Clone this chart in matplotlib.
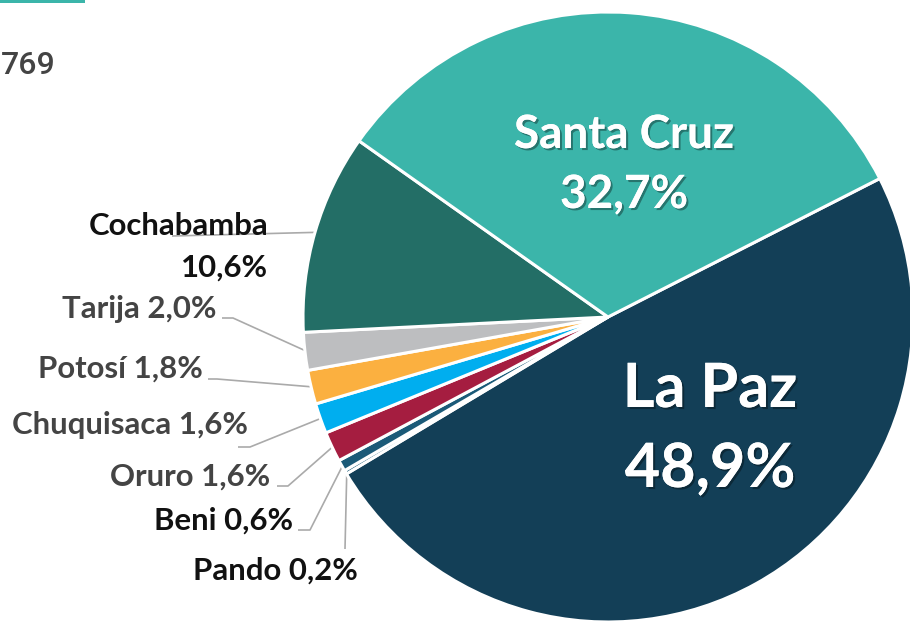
import matplotlib
matplotlib.use("Agg")
import matplotlib.pyplot as plt
import matplotlib.patheffects as pe
import numpy as np

# ---- data ----
departments = ["La Paz", "Pando", "Beni", "Oruro", "Chuquisaca", "Potosí", "Tarija", "Cochabamba", "Santa Cruz"]
shares = [48.9, 0.2, 0.6, 1.6, 1.6, 1.8, 2.0, 10.6, 32.7]
share_labels = ["48,9%", "0,2%", "0,6%", "1,6%", "1,6%", "1,8%", "2,0%", "10,6%", "32,7%"]
colors = ["#133f57", "#1b5a78", "#1b5a78", "#a51d40", "#00aeef", "#fbb040", "#bdbec0", "#236e66", "#3bb5aa"]
corner_text = "769"

W, H = 910, 621
CX, CY, R = 608, 317, 305

fig = plt.figure(figsize=(W / 100, H / 100), dpi=100)
ax = fig.add_axes([0, 0, 1, 1])

def px(x, y):
    return ((x - CX) / R, (CY - y) / R)

FONT = ["Lato", "DejaVu Sans"]

wedges, _ = ax.pie(shares, colors=colors, startangle=27, counterclock=False, radius=1.0,
                   center=(0, 0), wedgeprops=dict(edgecolor="white", linewidth=2.2))
ax.set_xlim(-CX / R, (W - CX) / R)
ax.set_ylim(-(H - CY) / R, CY / R)
ax.set_aspect("equal")
ax.axis("off")

shadow = [pe.withSimplePatchShadow(offset=(1.5, -1.5), shadow_rgbFace="black", alpha=0.35), pe.Normal()]

# inner labels
inner = {
    "Santa Cruz": [(624, 148, 33), (624, 208, 33)],
    "La Paz": [(710, 407, 44), (710, 487, 44)],
}
for name, pos in inner.items():
    i = departments.index(name)
    (x1, y1, s), (x2, y2, _) = pos
    for (xx, yy), txt in zip([px(x1, y1), px(x2, y2)], [name, share_labels[i]]):
        ax.text(xx, yy, txt, ha="center", va="baseline", color="white", fontsize=s,
                fontweight="bold", family=FONT, path_effects=shadow)

# outside labels: (text right x, baseline y, color, path points after anchor)
outside = {
    "Cochabamba": (268, 235, "#111111", [(172, 236)]),
    "Tarija": (217, 318, "#444444", [(233, 318), (222, 318)]),
    "Potosí": (203, 378, "#444444", [(217, 379), (208, 379)]),
    "Chuquisaca": (248, 434, "#444444", [(250, 447), (238, 447)]),
    "Oruro": (270, 486, "#444444", [(288, 486), (277, 486)]),
    "Beni": (293, 530, "#111111", [(310, 530), (298, 530)]),
    "Pando": (358, 580, "#111111", [(345, 549)]),
}
FS = 22.4
for name, (tx, ty, col, path) in outside.items():
    i = departments.index(name)
    w = wedges[i]
    mid = np.deg2rad((w.theta1 + w.theta2) / 2)
    anchor = (0.995 * np.cos(mid), 0.995 * np.sin(mid))
    pts = [anchor] + [px(*p) for p in path]
    ax.plot([p[0] for p in pts], [p[1] for p in pts], color="#aaaaaa", lw=1.2,
            solid_capstyle="butt", zorder=0.5)
    if name == "Cochabamba":
        ax.text(*px(tx, ty), name, ha="right", va="baseline", color=col, fontsize=FS,
                fontweight="bold", family=FONT, zorder=3)
        ax.text(*px(tx, 277), share_labels[i], ha="right", va="baseline", color=col, fontsize=FS,
                fontweight="bold", family=FONT, zorder=3)
    else:
        ax.text(*px(tx, ty), f"{name} {share_labels[i]}", ha="right", va="baseline", color=col,
                fontsize=FS, fontweight="bold", family=FONT, zorder=3)

# decorative header bits
fig.add_artist(plt.Rectangle((0, 1 - 3 / H), 85 / W, 3 / H, transform=fig.transFigure,
                             color="#3bb5aa", lw=0))
fig.text(1 / W, 1 - 74 / H, corner_text, ha="left", va="baseline", color="#444444",
         fontsize=23, fontweight="medium", family=["Roboto", "DejaVu Sans"])

fig.savefig("out.png", dpi=100)
